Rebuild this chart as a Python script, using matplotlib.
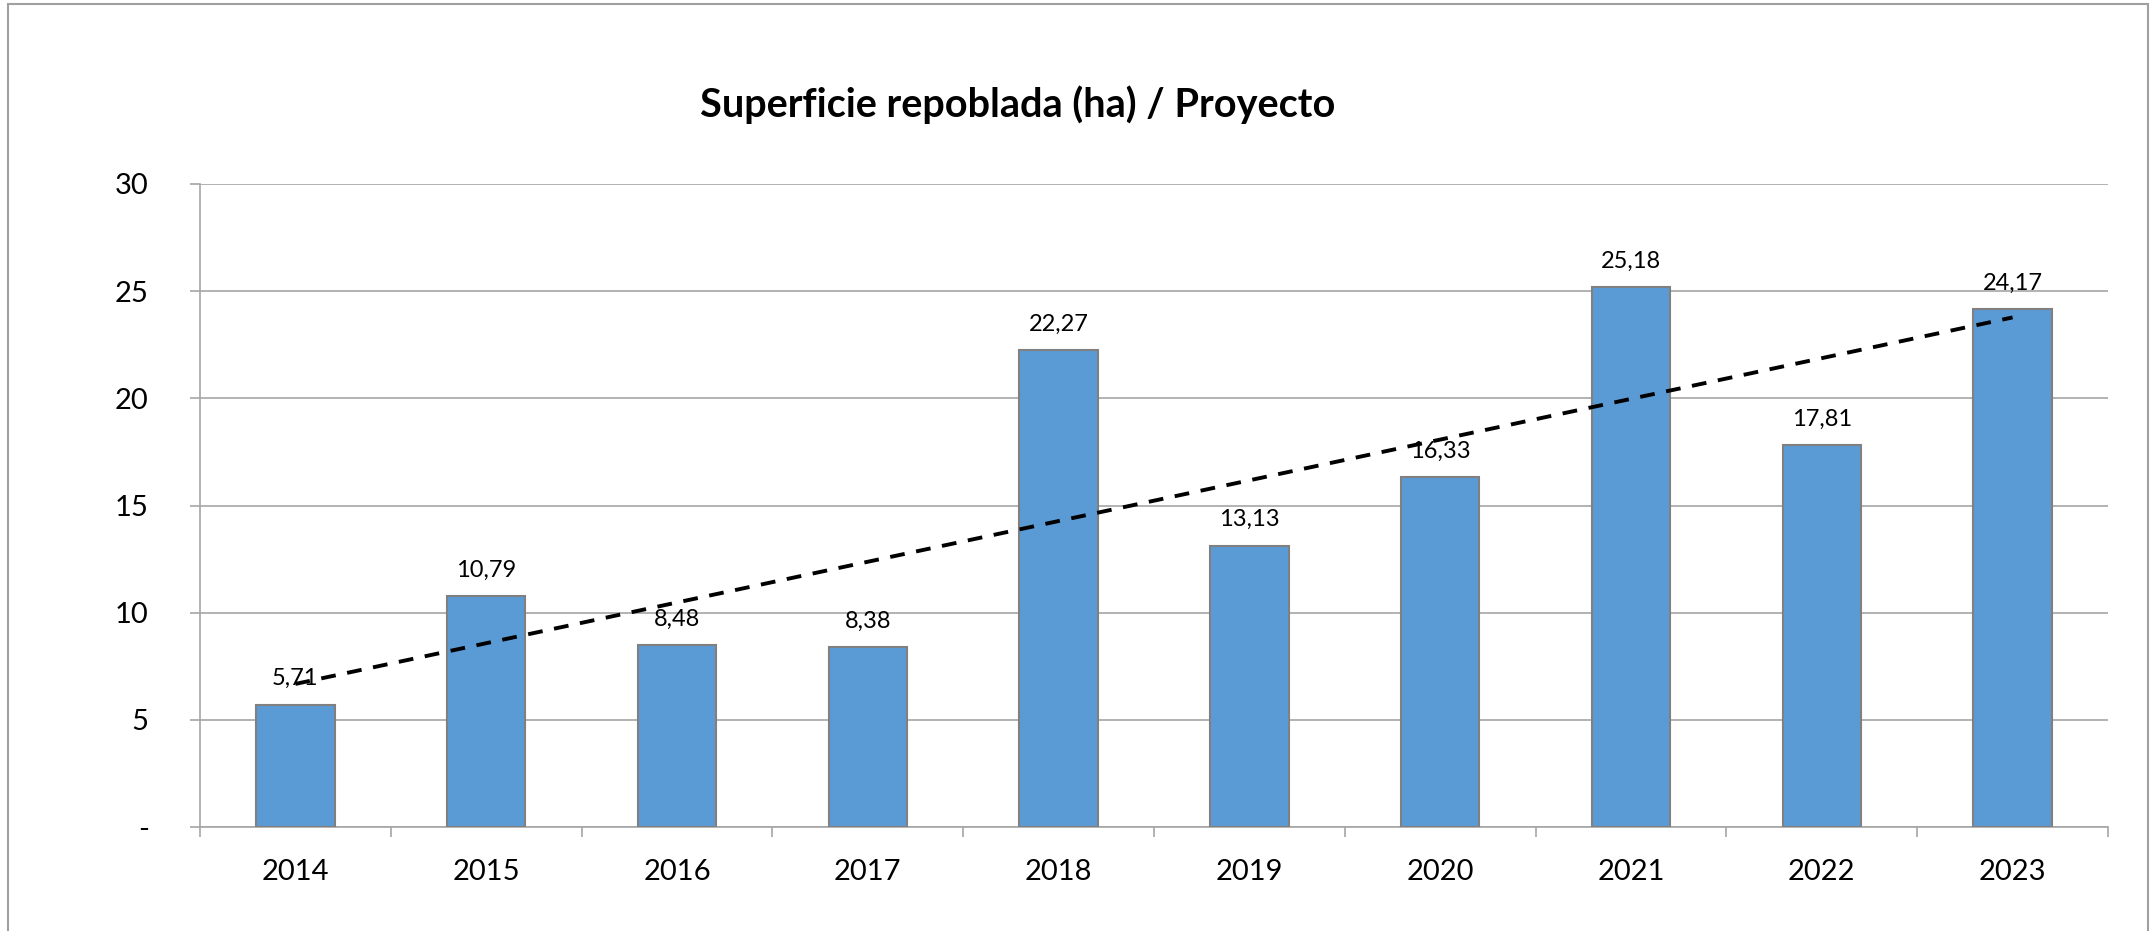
import numpy as np
import matplotlib
matplotlib.use("Agg")
import matplotlib.pyplot as plt
from matplotlib.patches import Rectangle
from matplotlib.ticker import FixedLocator, FuncFormatter

plt.rcParams['font.family'] = ['Lato', 'DejaVu Sans']

# data
#-----------------------------------------------------------------------------#
years = ['2014', '2015', '2016', '2017', '2018', '2019', '2020', '2021', '2022', '2023']
area_ha = [5.71, 10.79, 8.48, 8.38, 22.27, 13.13, 16.33, 25.18, 17.81, 24.17]
title = 'Superficie repoblada (ha) / Proyecto'
y_ticks = [0, 5, 10, 15, 20, 25, 30]

grid_col = '#A6A6A6'
bar_col = '#5B9BD5'

fig = plt.figure(figsize=(21.5, 9.31), dpi=100)
ax = fig.add_axes([200/2150, 1-827/931, (2108-200)/2150, (827-184)/931])

x = np.arange(len(years))
ax.bar(x, area_ha, width=0.41, color=bar_col, edgecolor='#808080', linewidth=1.5, zorder=3)

# linear trend line over the bars
coef = np.polyfit(x, area_ha, 1)
ax.plot(x, np.polyval(coef, x), color='black', linewidth=2.8, dashes=(3.8, 3), zorder=4)

# value labels
for xi, v in zip(x, area_ha):
    ax.annotate(f'{v:.2f}'.replace('.', ','), (xi, v), xytext=(0, 11), textcoords='offset points',
                ha='center', va='bottom', fontsize=17, zorder=5)

ax.set_xlim(-0.5, len(years) - 0.5)
ax.set_ylim(0, 30)
ax.set_yticks(y_ticks)
ax.yaxis.set_major_formatter(FuncFormatter(lambda v, p: '-' if v == 0 else f'{v:.0f}'))
ax.yaxis.grid(True, color=grid_col, linewidth=1.2, zorder=0)
ax.tick_params(axis='y', length=7, width=1.2, color=grid_col, pad=30, labelsize=21)

ax.set_xticks(x)
ax.set_xticklabels(years)
ax.xaxis.set_minor_locator(FixedLocator(np.arange(-0.5, len(years), 1.0)))
ax.tick_params(axis='x', which='major', length=0, pad=23, labelsize=21)
ax.tick_params(axis='x', which='minor', length=7, width=1.2, color=grid_col)

for s in ['top', 'right']:
    ax.spines[s].set_visible(False)
for s in ['left', 'bottom']:
    ax.spines[s].set_color(grid_col)
    ax.spines[s].set_linewidth(1.2)

fig.text(1018/2150, 1-105/931, title, ha='center', va='center', fontsize=28.5, fontweight='bold')

# outer chart border
fig.patches.append(Rectangle((8/2150, -0.05), 2140/2150, 1.05-4/931, transform=fig.transFigure,
                             fill=False, edgecolor='#A0A0A0', linewidth=1.5))

fig.savefig('out.png', dpi=100)
